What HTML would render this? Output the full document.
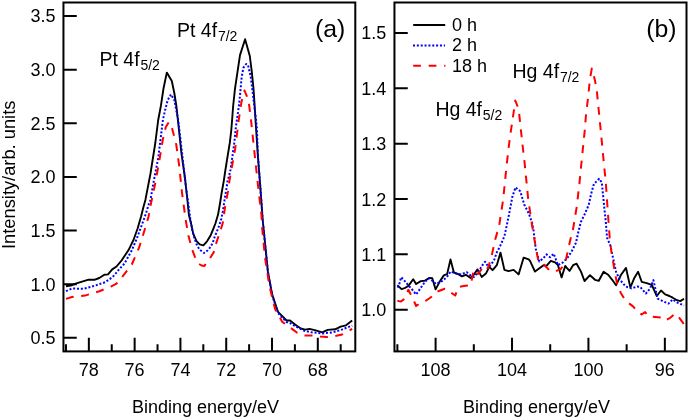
<!DOCTYPE html><html><head><meta charset="utf-8"><style>html,body{margin:0;padding:0;background:#fff;}svg{display:block;}text{font-family:"Liberation Sans",sans-serif;fill:#000;}</style></head><body>
<svg width="690" height="418" viewBox="0 0 690 418">
<rect width="690" height="418" fill="#fff"/>
<defs>
<filter id="bl" x="-5%" y="-5%" width="110%" height="110%"><feGaussianBlur stdDeviation="0.45"/></filter>
<clipPath id="ca"><rect x="63.45" y="2.5" width="291.85" height="348.9"/></clipPath>
<clipPath id="cb"><rect x="394.45" y="2.5" width="292.05" height="348.9"/></clipPath>
</defs>
<g filter="url(#bl)">
<g clip-path="url(#ca)" fill="none" stroke-linejoin="round">
<polyline points="66.0,286.3 72.0,285.2 76.4,283.3 82.1,281.6 88.6,279.7 95.0,279.7 99.3,278.0 104.3,274.7 108.0,274.4 112.2,269.4 116.5,266.5 121.7,260.3 128.4,250.3 133.4,240.2 137.6,228.5 141.0,216.8 143.5,206.7 145.4,199.9 150.5,173.5 153.8,152.5 155.3,143.0 158.2,120.0 161.0,105.2 163.5,88.5 166.8,72.6 171.8,81.0 174.4,93.5 176.5,107.0 177.9,120.0 181.4,153.0 184.9,177.3 187.4,200.0 188.9,215.0 190.9,222.9 193.2,233.6 196.5,241.1 199.7,244.4 203.4,245.4 207.2,241.1 210.4,235.8 213.1,229.3 215.4,223.5 218.0,214.8 220.0,203.5 221.7,192.5 223.8,180.8 225.4,170.0 227.8,155.0 229.8,142.9 231.3,130.0 232.1,120.0 233.1,106.5 235.0,88.6 237.5,71.9 240.0,55.1 245.1,39.2 249.8,56.0 251.8,71.9 253.5,88.6 254.7,106.5 255.5,120.0 257.9,155.9 260.3,186.9 262.7,220.0 265.0,243.0 267.9,271.7 272.2,294.6 278.0,311.9 286.6,320.5 290.0,320.5 295.4,324.8 300.8,328.5 305.1,329.6 309.4,328.9 314.8,330.1 322.3,332.3 327.7,329.9 335.2,329.3 340.6,326.7 346.0,325.3 352.2,320.6" stroke="#000" stroke-width="1.9"/>
<polyline points="66.0,291.1 72.0,288.5 83.5,288.8 90.7,287.0 99.3,284.2 105.0,282.3 112.2,277.3 114.2,275.3 118.7,269.8 124.4,263.6 131.8,250.3 136.8,238.5 141.8,225.1 146.0,213.4 148.5,205.0 150.5,200.0 153.4,183.0 158.2,158.2 162.9,120.0 165.1,110.3 167.6,100.2 171.0,94.4 174.4,100.2 176.9,113.6 178.2,120.0 182.0,152.5 185.9,186.9 187.8,200.0 190.3,218.7 192.3,230.0 194.3,237.9 197.0,245.4 199.7,249.7 204.0,253.0 207.2,250.8 209.9,247.6 212.6,243.3 214.7,236.8 216.9,231.5 219.2,225.5 221.3,218.7 222.9,211.1 224.0,203.6 225.4,194.7 226.5,188.3 227.6,180.8 229.2,175.4 230.5,169.7 234.3,143.0 235.7,128.6 237.2,117.9 239.0,105.3 240.4,90.9 241.7,76.6 243.5,67.6 246.2,64.0 248.0,64.9 250.7,76.6 252.5,90.9 254.2,105.3 256.0,119.7 256.9,128.6 257.9,155.9 260.3,186.9 262.7,220.0 265.0,243.0 267.9,271.7 272.2,295.5 278.0,313.0 286.6,322.0 290.0,323.1 296.5,326.9 304.0,330.7 311.5,332.3 322.3,333.4 333.1,332.3 341.7,329.6 352.2,325.6" stroke="#0000ff" stroke-width="2.0" stroke-dasharray="2,1.85"/>
<polyline points="66.0,298.9 72.0,297.0 85.0,295.6 99.3,291.2 110.8,286.6 116.5,283.7 122.6,276.3 131.8,264.5 139.3,247.0 144.3,231.0 148.5,216.8 151.0,203.4 155.3,183.0 159.1,162.0 162.9,139.1 165.8,127.0 169.0,122.0 172.0,128.2 173.7,134.4 176.3,144.8 179.2,165.9 182.0,192.6 185.5,218.7 188.5,236.0 192.2,249.7 194.8,256.7 198.6,263.7 201.5,265.5 204.5,265.9 207.0,262.0 209.9,258.3 213.7,252.4 215.8,244.4 218.1,237.5 220.8,229.4 222.9,222.4 224.0,214.4 225.0,207.4 226.5,199.0 228.0,191.5 229.5,180.5 231.4,169.7 235.2,148.7 238.6,120.8 241.5,101.7 244.5,90.5 246.8,96.2 248.7,101.7 251.1,120.8 254.3,151.1 257.9,184.5 261.5,215.6 262.2,228.6 265.0,257.3 269.4,286.0 275.1,309.0 282.3,321.9 292.3,329.1 296.5,332.3 304.0,335.5 311.5,335.5 320.1,336.6 326.6,337.1 335.2,336.1 342.2,334.5 352.2,328.9" stroke="#ff0000" stroke-width="2.0" stroke-dasharray="8,7.5"/>
</g>
<g clip-path="url(#cb)" fill="none" stroke-linejoin="round">
<polyline points="397.3,285.3 401.6,289.1 404.6,288.2 408.4,285.9 413.2,279.2 416.1,284.0 420.8,281.1 424.7,280.8 429.4,277.9 432.3,278.3 435.6,289.4 440.0,281.1 443.8,275.4 447.1,274.1 450.5,259.5 453.9,272.5 458.2,274.1 462.0,276.4 465.8,274.8 470.6,277.9 473.4,275.2 477.5,269.4 481.7,276.9 485.9,273.6 489.3,266.9 492.6,270.2 496.8,265.2 500.5,252.6 504.4,269.9 508.5,271.1 513.6,269.9 518.6,274.4 523.6,257.7 528.7,259.3 530.0,260.9 535.0,271.6 540.8,267.3 543.6,265.2 546.5,265.9 550.8,260.9 555.1,262.3 558.0,265.2 561.6,277.4 565.2,266.0 569.5,270.9 573.1,265.2 576.6,263.7 581.0,271.6 584.5,281.0 590.0,275.2 595.0,279.8 598.8,280.8 603.6,271.8 608.4,275.0 612.2,279.8 616.1,285.2 620.9,275.0 626.0,267.9 630.4,287.5 634.3,277.9 638.1,271.8 641.7,281.8 646.7,283.1 651.8,284.8 656.8,296.0 661.0,290.5 665.2,294.4 669.4,296.0 672.7,297.7 676.9,300.2 680.3,301.1 684.0,298.7" stroke="#000" stroke-width="1.9"/>
<polyline points="397.7,287.7 399.2,284.4 401.1,277.2 403.5,279.6 406.4,282.9 408.7,285.8 411.1,288.2 416.1,294.5 420.8,287.8 425.6,281.1 429.4,278.3 436.1,284.0 441.9,281.1 446.7,277.3 450.5,271.6 456.2,273.5 461.0,274.4 466.8,272.2 470.0,275.0 474.1,277.0 478.9,270.8 482.8,264.6 485.1,261.7 487.5,265.5 489.4,266.5 491.8,263.6 494.2,259.8 497.0,252.0 500.2,245.9 503.5,238.4 504.5,236.0 508.4,217.6 512.4,196.6 515.5,187.4 520.3,191.3 524.2,204.5 528.9,213.7 532.1,222.9 533.5,230.0 535.7,248.7 539.3,261.6 543.6,258.0 546.5,254.4 550.1,257.3 553.7,253.7 558.0,265.2 563.0,262.3 567.3,258.0 571.6,251.5 575.9,242.9 578.2,232.6 580.8,222.1 584.7,214.2 588.7,205.0 591.3,193.2 593.9,184.0 599.2,178.7 601.8,182.6 603.9,203.7 605.8,222.1 607.1,237.9 610.3,245.3 613.2,258.7 616.1,272.1 619.9,279.8 625.7,286.5 631.4,288.4 637.1,286.5 640.0,286.8 645.9,293.5 650.1,288.5 653.4,280.1 657.6,298.6 662.7,301.1 668.5,303.6 672.7,299.4 677.8,302.8 684.0,305.5" stroke="#0000ff" stroke-width="2.0" stroke-dasharray="2,1.85"/>
<polyline points="397.3,300.6 400.6,301.6 403.5,299.7 408.4,289.8 413.2,299.3 416.1,306.0 421.8,302.2 426.6,300.3 433.3,295.5 437.1,291.7 444.8,288.8 449.5,291.7 455.3,295.5 458.2,287.0 463.6,286.1 470.8,285.1 473.7,269.8 474.6,270.3 478.0,274.1 481.0,270.0 484.2,265.5 488.0,268.4 490.4,259.8 491.8,255.0 495.1,240.0 499.2,225.5 503.2,199.2 506.3,168.5 508.2,151.3 510.1,136.0 513.0,116.8 515.3,100.5 518.7,109.2 520.7,128.3 522.6,145.6 524.5,161.8 528.2,199.2 532.1,225.5 536.1,249.2 538.6,262.3 542.9,263.7 550.1,270.9 555.1,271.6 560.9,268.8 565.2,263.0 568.0,250.1 571.6,234.3 572.9,230.0 576.8,206.3 579.5,182.6 582.1,156.3 584.7,130.9 586.1,113.6 588.0,98.3 589.9,79.2 591.8,68.6 594.7,79.2 596.6,88.7 598.5,107.9 600.4,127.0 603.2,156.3 605.8,182.6 607.6,208.9 609.7,237.9 611.3,251.1 614.2,268.3 617.0,283.6 620.9,293.2 625.7,300.9 633.3,306.6 637.5,311.9 641.7,314.5 645.1,312.0 648.4,316.2 655.1,317.0 662.7,317.8 665.2,320.4 670.2,317.8 675.2,313.7 678.6,317.0 684.0,324.2" stroke="#ff0000" stroke-width="2.0" stroke-dasharray="8,7.5"/>
</g>
<rect x="63.45" y="2.5" width="291.85" height="348.9" fill="none" stroke="#000" stroke-width="2.0"/>
<rect x="394.45" y="2.5" width="292.05" height="348.9" fill="none" stroke="#000" stroke-width="2.0"/>
<path d="M63.45,337.75h13.3 M63.45,284.14h13.3 M63.45,230.53h13.3 M63.45,176.92h13.3 M63.45,123.31h13.3 M63.45,69.70h13.3 M63.45,16.09h13.3 M340.69,351.4v-7.2 M317.80,351.4v-13.6 M294.90,351.4v-7.2 M272.01,351.4v-13.6 M249.11,351.4v-7.2 M226.22,351.4v-13.6 M203.32,351.4v-7.2 M180.43,351.4v-13.6 M157.53,351.4v-7.2 M134.64,351.4v-13.6 M111.74,351.4v-7.2 M88.85,351.4v-13.6 M65.95,351.4v-7.2 M394.45,309.70h13.3 M394.45,254.35h13.3 M394.45,199.00h13.3 M394.45,143.65h13.3 M394.45,88.30h13.3 M394.45,32.95h13.3 M664.85,351.4v-13.6 M626.64,351.4v-7.2 M588.43,351.4v-13.6 M550.22,351.4v-7.2 M512.02,351.4v-13.6 M473.81,351.4v-7.2 M435.60,351.4v-13.6 M397.39,351.4v-7.2" stroke="#000" stroke-width="2.0" fill="none"/>
</g>
<text x="55.5" y="344.2" font-size="18" text-anchor="end" >0.5</text>
<text x="55.5" y="290.6" font-size="18" text-anchor="end" >1.0</text>
<text x="55.5" y="237.0" font-size="18" text-anchor="end" >1.5</text>
<text x="55.5" y="183.4" font-size="18" text-anchor="end" >2.0</text>
<text x="55.5" y="129.8" font-size="18" text-anchor="end" >2.5</text>
<text x="55.5" y="76.2" font-size="18" text-anchor="end" >3.0</text>
<text x="55.5" y="21.8" font-size="18" text-anchor="end" >3.5</text>
<text x="88.8" y="375.5" font-size="18" text-anchor="middle" >78</text>
<text x="134.6" y="375.5" font-size="18" text-anchor="middle" >76</text>
<text x="180.4" y="375.5" font-size="18" text-anchor="middle" >74</text>
<text x="226.2" y="375.5" font-size="18" text-anchor="middle" >72</text>
<text x="272.0" y="375.5" font-size="18" text-anchor="middle" >70</text>
<text x="317.8" y="375.5" font-size="18" text-anchor="middle" >68</text>
<text x="386.3" y="316.2" font-size="18" text-anchor="end" >1.0</text>
<text x="386.3" y="260.8" font-size="18" text-anchor="end" >1.1</text>
<text x="386.3" y="205.5" font-size="18" text-anchor="end" >1.2</text>
<text x="386.3" y="150.1" font-size="18" text-anchor="end" >1.3</text>
<text x="386.3" y="94.8" font-size="18" text-anchor="end" >1.4</text>
<text x="386.3" y="39.4" font-size="18" text-anchor="end" >1.5</text>
<text x="435.6" y="375.5" font-size="18" text-anchor="middle" >108</text>
<text x="512.0" y="375.5" font-size="18" text-anchor="middle" >104</text>
<text x="588.4" y="375.5" font-size="18" text-anchor="middle" >100</text>
<text x="664.8" y="375.5" font-size="18" text-anchor="middle" >96</text>
<text x="205.5" y="412.7" font-size="18" text-anchor="middle" >Binding energy/eV</text>
<text x="536.5" y="412.7" font-size="18" text-anchor="middle" >Binding energy/eV</text>
<text x="0" y="0" font-size="18.3" text-anchor="middle" transform="translate(15.3,174.8) rotate(-90)">Intensity/arb. units</text>
<text x="330.1" y="36.6" font-size="24.8" text-anchor="middle" >(a)</text>
<text x="661.3" y="36.6" font-size="24.8" text-anchor="middle" >(b)</text>
<text x="99.5" y="65.5" font-size="19.5">Pt 4f<tspan font-size="14" dx="0.8" dy="4.3">5/2</tspan></text>
<text x="177" y="36.9" font-size="19.5">Pt 4f<tspan font-size="14" dx="0.8" dy="4.3">7/2</tspan></text>
<text x="435.4" y="115.5" font-size="19.5">Hg 4f<tspan font-size="14" dx="0.8" dy="4.3">5/2</tspan></text>
<text x="512.5" y="77.5" font-size="19.5">Hg 4f<tspan font-size="14" dx="0.8" dy="4.3">7/2</tspan></text>
<g filter="url(#bl)">
<path d="M413.2,25.0h32" stroke="#000" stroke-width="1.9"/>
<path d="M413,45.4h32" stroke="#0000ff" stroke-width="2.0" stroke-dasharray="2,1.85"/>
<path d="M413.2,65.8h32.2" stroke="#ff0000" stroke-width="2.0" stroke-dasharray="7.7,7.8"/>
</g>
<text x="452.0" y="31.0" font-size="18" text-anchor="start" >0 h</text>
<text x="452.0" y="51.3" font-size="18" text-anchor="start" >2 h</text>
<text x="452.0" y="71.6" font-size="18" text-anchor="start" >18 h</text>
</svg></body></html>
